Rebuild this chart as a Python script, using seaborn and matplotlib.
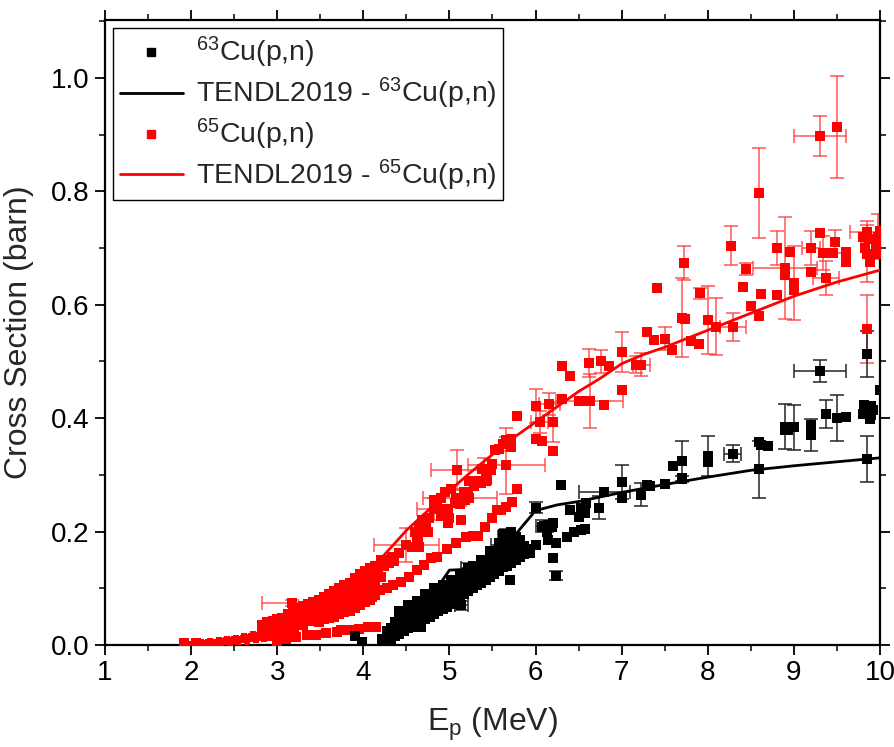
import numpy as np
import pandas as pd
import matplotlib
matplotlib.use("Agg")
import matplotlib.pyplot as plt
import seaborn as sns
from matplotlib.lines import Line2D
from matplotlib.ticker import MultipleLocator

# ---------------- TENDL-2019 evaluations ----------------
tendl63_e = [4.2, 4.4, 4.6, 4.8, 5.0, 5.15, 5.4, 5.55, 5.7, 5.85, 6.0, 6.25, 6.5, 6.75,
             7.0, 7.5, 8.0, 8.5, 9.0, 9.5, 10.0]
tendl63_xs = [0.0, 0.02, 0.05, 0.088, 0.132, 0.133, 0.143, 0.16, 0.182, 0.21, 0.237, 0.247,
              0.253, 0.261, 0.269, 0.283, 0.296, 0.308, 0.316, 0.323, 0.33]

tendl65_e = [2.15, 2.3, 2.5, 2.75, 3.0, 3.25, 3.5, 3.75, 4.0, 4.25, 4.5, 4.75, 5.0, 5.25,
             5.5, 5.75, 6.0, 6.25, 6.5, 6.75, 7.0, 7.25, 7.5, 7.75, 8.0, 8.5, 9.0, 9.5, 10.0]
tendl65_xs = [0.0, 0.002, 0.006, 0.014, 0.027, 0.045, 0.066, 0.09, 0.12, 0.16, 0.202, 0.237,
              0.272, 0.305, 0.336, 0.366, 0.393, 0.42, 0.447, 0.47, 0.496, 0.512, 0.525,
              0.54, 0.555, 0.585, 0.615, 0.64, 0.661]

# ---------------- 63Cu(p,n) measurements ----------------
cu63_e = [4.22, 4.22, 4.27, 4.27, 4.27, 4.32, 4.32, 4.32, 4.37, 4.37, 4.37,
          4.42, 4.42, 4.42, 4.42, 4.47, 4.47, 4.47, 4.52, 4.52, 4.52, 4.52,
          4.57, 4.57, 4.57, 4.62, 4.62, 4.62, 4.62, 4.67, 4.67, 4.67,
          4.72, 4.72, 4.72, 4.72, 4.77, 4.77, 4.77, 4.82, 4.82, 4.82, 4.82,
          4.87, 4.87, 4.87, 4.92, 4.92, 4.92, 4.92, 4.97, 4.97, 4.97,
          5.02, 5.02, 5.02, 5.02, 5.07, 5.07, 5.07, 5.12, 5.12, 5.12, 5.12,
          5.17, 5.17, 5.17, 5.22, 5.22, 5.22, 5.27, 5.27, 5.27, 5.27,
          5.32, 5.32, 5.32, 5.37, 5.37, 5.37, 5.37, 5.42, 5.42, 5.42,
          5.47, 5.47, 5.47, 5.47, 5.52, 5.52, 5.52, 5.57, 5.57, 5.57, 5.57,
          5.62, 5.62, 5.62, 5.62, 5.67, 5.67, 5.67, 5.72, 5.72, 5.72, 5.72,
          5.77, 5.77, 5.77, 5.82, 5.82, 5.82, 5.87, 5.87, 5.93, 5.93,
          4.30, 4.40, 4.50, 4.60, 4.70, 4.80, 4.90, 5.00, 5.10, 5.20, 5.30, 5.40, 5.50, 5.60,
          3.90, 3.99, 4.67, 5.70, 6.20,
          6.01, 6.14, 6.24, 6.36, 6.45, 6.53, 6.57, 6.08, 6.14, 6.19, 6.13, 6.20,
          6.30, 6.40, 6.53, 6.59, 6.57, 6.51, 7.00, 7.29, 7.50, 7.60, 7.70, 7.33,
          8.00, 8.60, 8.62, 8.70, 8.90, 8.93, 9.20, 9.60, 9.80, 9.88, 9.90, 9.85,
          9.92, 9.82, 9.90, 10.0]
cu63_xs = [0.002, 0.010, 0.005, 0.015, 0.025, 0.010, 0.020, 0.030, 0.015, 0.028, 0.040,
           0.020, 0.035, 0.050, 0.060, 0.025, 0.040, 0.055, 0.030, 0.045, 0.060, 0.070,
           0.032, 0.050, 0.065, 0.038, 0.055, 0.070, 0.078, 0.042, 0.060, 0.075,
           0.045, 0.065, 0.080, 0.090, 0.050, 0.070, 0.085, 0.055, 0.075, 0.090, 0.100,
           0.060, 0.080, 0.095, 0.063, 0.085, 0.100, 0.105, 0.067, 0.090, 0.105,
           0.072, 0.095, 0.110, 0.115, 0.078, 0.100, 0.115, 0.085, 0.105, 0.120, 0.125,
           0.090, 0.110, 0.125, 0.095, 0.115, 0.130, 0.100, 0.120, 0.135, 0.140,
           0.105, 0.125, 0.140, 0.110, 0.130, 0.145, 0.150, 0.115, 0.135, 0.150,
           0.120, 0.140, 0.155, 0.165, 0.125, 0.145, 0.160, 0.130, 0.150, 0.170, 0.180,
           0.138, 0.155, 0.175, 0.195, 0.140, 0.160, 0.180, 0.145, 0.165, 0.185, 0.200,
           0.150, 0.170, 0.190, 0.155, 0.170, 0.185, 0.160, 0.175, 0.162, 0.170,
           0.022, 0.030, 0.040, 0.048, 0.058, 0.066, 0.075, 0.082, 0.092, 0.100, 0.112, 0.122,
           0.133, 0.145,
           0.016, 0.005, 0.032, 0.115, 0.153,
           0.176, 0.185, 0.180, 0.190, 0.200, 0.203, 0.204, 0.208, 0.212, 0.208, 0.200, 0.215,
           0.282, 0.238, 0.242, 0.250, 0.233, 0.226, 0.260, 0.282, 0.284, 0.316, 0.295, 0.280,
           0.323, 0.358, 0.352, 0.351, 0.379, 0.379, 0.388, 0.402, 0.407, 0.399, 0.406, 0.413,
           0.415, 0.423, 0.421, 0.450]

cu63_err_e = [5.14, 5.21, 5.66, 5.58, 6.24, 6.01, 6.10, 6.74, 6.80, 7.00, 7.23, 7.70, 7.70,
              8.00, 8.29, 8.60, 8.90, 9.00, 9.20, 9.30, 9.37, 9.50, 9.85, 9.85]
cu63_err_xs = [0.070, 0.135, 0.190, 0.176, 0.122, 0.242, 0.210, 0.242, 0.270, 0.288, 0.265,
               0.325, 0.293, 0.333, 0.337, 0.310, 0.385, 0.384, 0.370, 0.483, 0.407, 0.400,
               0.513, 0.328]
cu63_err_dx = [0.07, 0.07, 0.10, 0.10, 0.0, 0.0, 0.10, 0.0, 0.30, 0.0, 0.0, 0.0, 0.0,
               0.0, 0.10, 0.0, 0.0, 0.0, 0.0, 0.30, 0.0, 0.0, 0.0, 0.0]
cu63_err_dy = [0.008, 0.010, 0.015, 0.0, 0.008, 0.010, 0.010, 0.020, 0.0, 0.030, 0.020,
               0.035, 0.005, 0.035, 0.015, 0.050, 0.040, 0.040, 0.028, 0.020, 0.025, 0.040,
               0.040, 0.040]

# ---------------- 65Cu(p,n) measurements ----------------
# fine-binned low-energy data (small symbols)
cu65_fine_e = [1.95, 2.00, 2.05, 2.10, 2.15, 2.20, 2.25, 2.30, 2.35, 2.40, 2.45, 2.50,
               2.55, 2.60, 2.65, 2.70, 2.75, 2.80, 2.85, 2.90, 2.95, 3.00,
               2.05, 2.15, 2.25, 2.35, 2.45, 2.55, 2.65, 2.75, 2.85, 2.95, 3.05,
               2.20, 2.30, 2.40, 2.50, 2.60, 2.70, 2.80, 2.90,
               2.12, 2.22, 2.32, 2.42, 2.52, 2.62, 2.72, 2.82, 2.92]
cu65_fine_xs = [0.002, 0.002, 0.003, 0.003, 0.004, 0.005, 0.005, 0.006, 0.007, 0.008, 0.009,
                0.010, 0.011, 0.013, 0.014, 0.016, 0.018, 0.020, 0.022, 0.024, 0.026, 0.028,
                0.000, 0.001, 0.002, 0.003, 0.004, 0.005, 0.006, 0.008, 0.010, 0.012, 0.014,
                0.003, 0.004, 0.005, 0.007, 0.009, 0.011, 0.013, 0.016,
                0.005, 0.007, 0.009, 0.011, 0.013, 0.016, 0.019, 0.023, 0.027]

cu65_e = [1.92, 2.06,
          2.82, 2.82, 2.88, 2.88, 2.88, 2.95, 2.95, 2.95, 3.00, 3.00, 3.00, 3.06, 3.06, 3.06,
          3.12, 3.12, 3.12, 3.18, 3.18, 3.18, 3.24, 3.24, 3.24, 3.30, 3.30, 3.30,
          3.36, 3.36, 3.36, 3.42, 3.42, 3.42, 3.48, 3.48, 3.48, 3.48,
          3.54, 3.54, 3.54, 3.54, 3.60, 3.60, 3.60, 3.60, 3.66, 3.66, 3.66, 3.66,
          3.72, 3.72, 3.72, 3.72, 3.78, 3.78, 3.78, 3.78, 3.84, 3.84, 3.84, 3.84,
          3.90, 3.90, 3.90, 3.90, 3.96, 3.96, 3.96, 3.96, 4.02, 4.02, 4.02, 4.02,
          4.08, 4.08, 4.08, 4.08, 4.14, 4.14, 4.14, 4.20, 4.20, 4.20,
          3.15, 3.21, 3.27, 3.33, 3.39, 3.45, 3.51, 3.57, 3.63, 3.69, 3.75, 3.81, 3.87,
          3.93, 3.99, 4.05, 4.11, 4.17,
          3.10, 3.20, 3.30, 3.40, 3.50, 3.60, 3.70, 3.80, 3.90, 4.00, 4.10,
          3.00, 3.10, 3.22, 3.34, 3.45, 3.57, 3.69, 3.74, 3.84, 3.95, 4.05, 4.15,
          4.13, 4.19, 4.28, 4.34, 4.44, 4.53, 4.62, 4.71, 4.78, 4.86, 4.97, 5.08,
          5.19, 5.27, 5.33, 5.41, 5.49, 5.55, 5.60, 5.66, 5.73, 5.79,
          4.24, 4.28, 4.30, 4.33, 4.36, 4.42, 4.56, 4.65, 4.62, 4.63, 4.65, 4.71,
          4.76, 4.83, 4.95, 4.98, 5.00, 4.98, 4.90, 5.14, 5.08, 5.14, 5.20, 5.06,
          5.12, 5.18, 5.23, 5.38, 5.48, 5.40, 5.43, 5.33, 5.37, 5.28, 5.23,
          5.53, 5.58, 5.62, 5.67, 5.72, 5.72, 5.49, 5.42, 5.44, 5.17, 5.21,
          4.82, 4.90, 4.95, 5.02, 4.85, 4.68, 4.73, 4.60, 4.75,
          5.78, 6.00, 6.07, 6.20, 6.31, 6.40, 6.31, 6.50, 6.59, 6.79, 6.85, 7.00,
          7.30, 7.38, 7.41, 7.59, 7.80, 7.90, 7.73, 8.41, 8.50, 8.60, 8.62, 8.80,
          8.96, 9.20, 9.30, 9.45, 9.60, 9.60, 8.90, 9.00, 9.80, 9.83, 9.87, 9.90,
          9.88, 9.95, 10.0, 10.0]
cu65_xs = [0.003, 0.003,
           0.020, 0.035, 0.025, 0.040, 0.015, 0.030, 0.042, 0.020, 0.020, 0.035, 0.045,
           0.025, 0.040, 0.048, 0.030, 0.045, 0.055, 0.033, 0.050, 0.060, 0.035, 0.052,
           0.065, 0.040, 0.055, 0.068, 0.045, 0.060, 0.072, 0.050, 0.065, 0.075,
           0.050, 0.070, 0.080, 0.040, 0.055, 0.075, 0.085, 0.045, 0.060, 0.080, 0.090,
           0.048, 0.065, 0.085, 0.095, 0.050, 0.070, 0.090, 0.100, 0.055, 0.075, 0.095,
           0.105, 0.058, 0.080, 0.100, 0.110, 0.060, 0.085, 0.105, 0.118, 0.065,
           0.090, 0.110, 0.125, 0.070, 0.095, 0.120, 0.130, 0.075, 0.100, 0.125, 0.135,
           0.080, 0.110, 0.130, 0.140, 0.120, 0.140, 0.150,
           0.040, 0.044, 0.048, 0.053, 0.058, 0.062, 0.066, 0.071, 0.076, 0.081, 0.086, 0.092,
           0.097, 0.103, 0.108, 0.114, 0.120, 0.126,
           0.025, 0.030, 0.036, 0.042, 0.046, 0.052, 0.058, 0.064, 0.070, 0.078, 0.085,
           0.005, 0.010, 0.014, 0.018, 0.018, 0.021, 0.023, 0.026, 0.026, 0.028, 0.032, 0.032,
           0.088, 0.097, 0.100, 0.106, 0.111, 0.120, 0.132, 0.141, 0.153, 0.155, 0.169, 0.180,
           0.190, 0.192, 0.192, 0.208, 0.224, 0.238, 0.238, 0.243, 0.252, 0.275,
           0.140, 0.150, 0.145, 0.155, 0.148, 0.162, 0.173, 0.173, 0.190, 0.185, 0.208, 0.200,
           0.224, 0.240, 0.240, 0.232, 0.224, 0.215, 0.228, 0.220, 0.260, 0.258, 0.260, 0.250,
           0.248, 0.255, 0.260, 0.310, 0.308, 0.290, 0.290, 0.290, 0.285, 0.280, 0.290,
           0.344, 0.346, 0.355, 0.362, 0.363, 0.349, 0.320, 0.305, 0.291, 0.270, 0.262,
           0.255, 0.260, 0.270, 0.275, 0.245, 0.220, 0.210, 0.200, 0.200,
           0.404, 0.363, 0.360, 0.342, 0.492, 0.474, 0.434, 0.430, 0.430, 0.423, 0.492, 0.450,
           0.552, 0.538, 0.630, 0.520, 0.536, 0.530, 0.575, 0.632, 0.598, 0.580, 0.619, 0.617,
           0.693, 0.658, 0.727, 0.692, 0.693, 0.675, 0.652, 0.626, 0.720, 0.700, 0.715, 0.690,
           0.675, 0.705, 0.730, 0.690]

cu65_err_e = [3.17, 4.50, 4.82, 5.12, 5.09, 5.66, 5.40, 6.00, 6.16, 6.05, 6.20, 5.66, 6.63,
              6.62, 6.76, 7.00, 7.17, 7.23, 7.50, 7.70, 7.72, 7.91, 8.00, 8.10, 8.29, 8.27,
              8.44, 8.59, 8.80, 8.90, 9.00, 9.20, 9.34, 9.37, 9.48, 9.30, 9.50, 9.85, 9.85,
              9.85, 9.98]
cu65_err_xs = [0.074, 0.176, 0.240, 0.260, 0.309, 0.317, 0.310, 0.422, 0.425, 0.393, 0.393,
               0.362, 0.430, 0.497, 0.500, 0.517, 0.494, 0.494, 0.540, 0.577, 0.673, 0.620,
               0.573, 0.561, 0.561, 0.704, 0.663, 0.797, 0.700, 0.665, 0.638, 0.700, 0.692,
               0.647, 0.711, 0.898, 0.914, 0.728, 0.690, 0.557, 0.720]
cu65_err_dx = [0.35, 0.38, 0.20, 0.43, 0.30, 0.45, 0.0, 0.0, 0.12, 0.10, 0.0, 0.0, 0.39,
               0.0, 0.0, 0.0, 0.0, 0.10, 0.0, 0.0, 0.0, 0.0, 0.0, 0.0, 0.15, 0.0,
               0.0, 0.0, 0.0, 0.37, 0.0, 0.10, 0.0, 0.15, 0.0, 0.30, 0.0, 0.20, 0.0,
               0.0, 0.0]
cu65_err_dy = [0.006, 0.030, 0.020, 0.015, 0.035, 0.050, 0.020, 0.030, 0.020, 0.020, 0.035,
               0.020, 0.047, 0.025, 0.020, 0.035, 0.015, 0.020, 0.020, 0.070, 0.030, 0.010,
               0.060, 0.050, 0.025, 0.034, 0.010, 0.080, 0.030, 0.090, 0.065, 0.030, 0.030,
               0.030, 0.020, 0.035, 0.090, 0.020, 0.050, 0.060, 0.040]

# ---------------- styling ----------------
sns.set_theme(style="ticks")
plt.rcParams["font.family"] = ["Liberation Sans", "DejaVu Sans"]
plt.rcParams["mathtext.fontset"] = "custom"
plt.rcParams["mathtext.rm"] = "Liberation Sans"
plt.rcParams["mathtext.it"] = "Liberation Sans:italic"
plt.rcParams["mathtext.bf"] = "Liberation Sans:bold"

RED = "#ff0000"
BLACK = "#000000"
MS = 46

fig = plt.figure(figsize=(8.95, 7.47), dpi=100)
ax = fig.add_axes([105 / 895, 102 / 747, 775 / 895, 625 / 747])


def draw_errors(ax, e, xs, dx, dy, color, ecolor):
    e = np.asarray(e); xs = np.asarray(xs)
    dx = np.asarray(dx, float); dy = np.asarray(dy, float)
    hx = dx > 0
    hy = dy > 0
    if hx.any():
        ax.errorbar(e[hx], xs[hx], xerr=dx[hx], fmt="none", ecolor=ecolor,
                    elinewidth=1.3, capsize=5, capthick=1.3, zorder=2)
    if hy.any():
        ax.errorbar(e[hy], xs[hy], yerr=dy[hy], fmt="none", ecolor=ecolor,
                    elinewidth=1.3, capsize=5, capthick=1.3, zorder=2)
    sns.scatterplot(x=e, y=xs, marker="s", s=MS, color=color, linewidth=0,
                    ax=ax, legend=False, zorder=3)


# 65Cu data
sns.scatterplot(x=cu65_fine_e, y=cu65_fine_xs, marker="s", s=14, color=RED,
                linewidth=0, ax=ax, legend=False, zorder=3)
sns.scatterplot(x=cu65_e, y=cu65_xs, marker="s", s=MS, color=RED, linewidth=0,
                ax=ax, legend=False, zorder=3)
draw_errors(ax, cu65_err_e, cu65_err_xs, cu65_err_dx, cu65_err_dy, RED, (1, 0.2, 0.2, 0.7))

# 63Cu data
sns.scatterplot(x=cu63_e, y=cu63_xs, marker="s", s=MS, color=BLACK, linewidth=0,
                ax=ax, legend=False, zorder=3)
draw_errors(ax, cu63_err_e, cu63_err_xs, cu63_err_dx, cu63_err_dy, BLACK, (0.15, 0.15, 0.15, 0.85))

# TENDL curves
tendl = pd.concat([
    pd.DataFrame({"E": tendl63_e, "xs": tendl63_xs, "set": "63"}),
    pd.DataFrame({"E": tendl65_e, "xs": tendl65_xs, "set": "65"}),
])
sns.lineplot(data=tendl, x="E", y="xs", hue="set", palette={"63": BLACK, "65": RED},
             linewidth=2.0, ax=ax, legend=False, sort=False, zorder=4)

ax.set_xlim(1, 10)
ax.set_ylim(0, 1.102)
ax.xaxis.set_major_locator(MultipleLocator(1))
ax.xaxis.set_minor_locator(MultipleLocator(0.5))
ax.yaxis.set_major_locator(MultipleLocator(0.2))
ax.yaxis.set_minor_locator(MultipleLocator(0.1))
ax.yaxis.set_major_formatter(matplotlib.ticker.FormatStrFormatter("%.1f"))

for sp in ax.spines.values():
    sp.set_linewidth(1.6)
    sp.set_color("black")
    sp.set_visible(True)
ax.tick_params(which="major", direction="out", length=7, width=1.3, top=True, right=True,
               labelsize=20, colors="black", pad=4)
ax.tick_params(which="minor", direction="out", length=4, width=1.3, top=True, right=True)

ax.set_xlabel(r"E$_\mathrm{p}$ (MeV)", fontsize=23, labelpad=14)
ax.set_ylabel("Cross Section (barn)", fontsize=23, labelpad=12)

handles = [
    Line2D([], [], marker="s", ls="none", color=BLACK, ms=6),
    Line2D([], [], color=BLACK, lw=2),
    Line2D([], [], marker="s", ls="none", color=RED, ms=6),
    Line2D([], [], color=RED, lw=2),
]
labels = [r"$^{63}$Cu(p,n)", r"TENDL2019 - $^{63}$Cu(p,n)",
          r"$^{65}$Cu(p,n)", r"TENDL2019 - $^{65}$Cu(p,n)"]
leg = ax.legend(handles, labels, loc="upper left", bbox_to_anchor=(0.0103, 0.987),
                borderaxespad=0, fontsize=20.5, frameon=True, fancybox=False,
                edgecolor="black", framealpha=1, handlelength=2.2, handletextpad=0.45,
                labelspacing=0.2, borderpad=0.25)
leg.get_frame().set_linewidth(1.0)

fig.savefig("out.png", dpi=100)
